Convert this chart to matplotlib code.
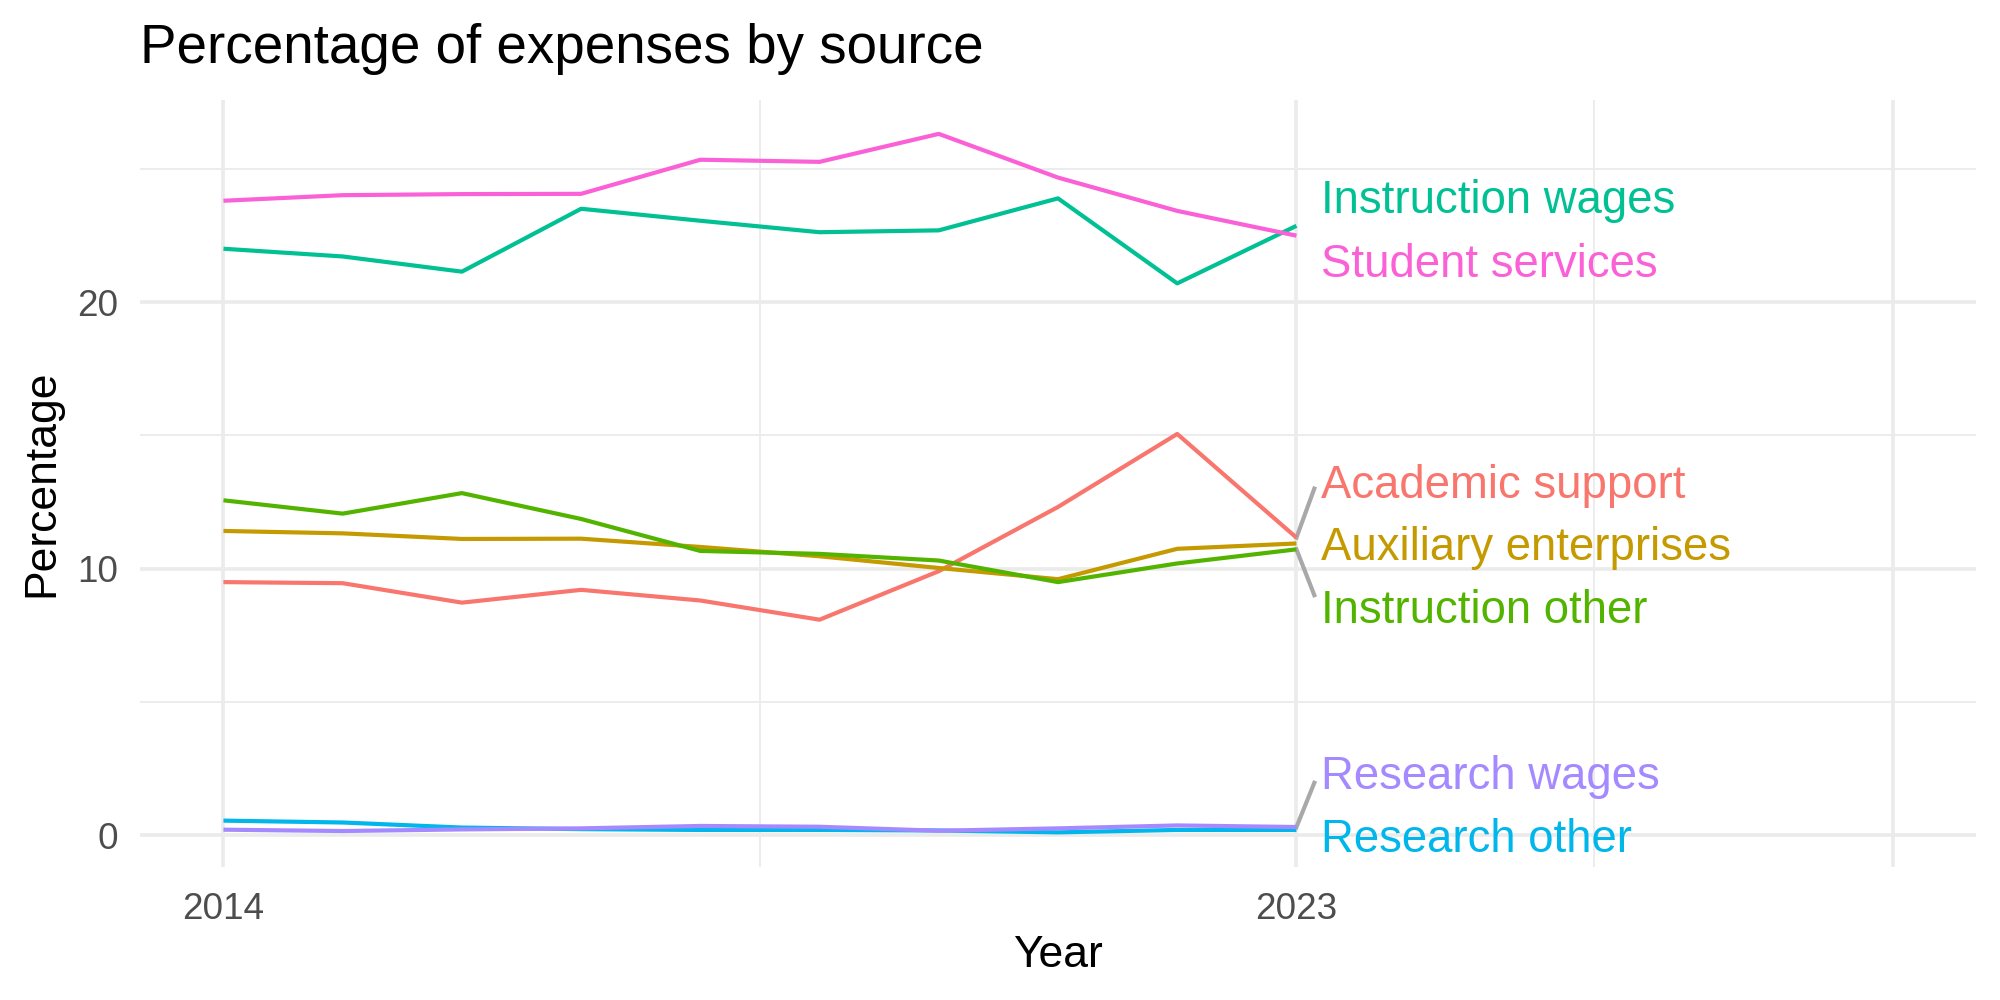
import matplotlib.pyplot as plt
import numpy as np

plt.rcParams['font.family'] = ['Liberation Sans', 'DejaVu Sans']

years = np.arange(2014, 2024)

academic_support = [9.49, 9.45, 8.72, 9.20, 8.80, 8.08, 9.90, 12.31, 15.05, 11.16]
auxiliary = [11.41, 11.32, 11.11, 11.12, 10.81, 10.46, 10.02, 9.60, 10.74, 10.94]
instruction_other = [12.56, 12.06, 12.83, 11.86, 10.66, 10.55, 10.30, 9.49, 10.19, 10.72]
instruction_wages = [22.00, 21.71, 21.14, 23.50, 23.05, 22.62, 22.69, 23.89, 20.70, 22.86]
research_other = [0.54, 0.47, 0.28, 0.22, 0.19, 0.19, 0.17, 0.10, 0.19, 0.19]
research_wages = [0.20, 0.15, 0.21, 0.25, 0.34, 0.31, 0.16, 0.25, 0.36, 0.30]
student_services = [23.80, 24.01, 24.05, 24.06, 25.34, 25.26, 26.31, 24.67, 23.42, 22.49]

series = [
    ('Academic support', academic_support, '#F8766D'),
    ('Auxiliary enterprises', auxiliary, '#C49A00'),
    ('Instruction other', instruction_other, '#53B400'),
    ('Instruction wages', instruction_wages, '#00C094'),
    ('Research other', research_other, '#00B6EB'),
    ('Research wages', research_wages, '#A58AFF'),
    ('Student services', student_services, '#FB61D7'),
]

# repelled label positions (y in data units) and leader segment ends
label_y = {
    'Instruction wages': 23.78,
    'Student services': 21.39,
    'Academic support': 13.11,
    'Auxiliary enterprises': 10.77,
    'Instruction other': 8.42,
    'Research wages': 2.16,
    'Research other': -0.19,
}
segment_end = {
    'Academic support': 13.0,
    'Instruction other': 9.0,
    'Research wages': 1.96,
}

fig = plt.figure(figsize=(10, 5), dpi=200)
ax = fig.add_axes([0.07, 0.133, 0.918, 0.7675])

for name, vals, col in series:
    ax.plot(years, vals, color=col, lw=1.5, solid_capstyle='butt', zorder=3)

for name, vals, col in series:
    if name in segment_end:
        ax.plot([years[-1], 2023.15], [vals[-1], segment_end[name]],
                color='#A8A8A8', lw=1.5, zorder=2)
    ax.text(2023.21, label_y[name], name, color=col, fontsize=16.4,
            va='center', ha='left', zorder=4)

ax.set_xlim(2013.3, 2028.7)
ax.set_ylim(-1.2, 27.6)
ax.set_xticks([2014, 2023, 2028])
ax.set_xticklabels(['2014', '2023', ''])
ax.set_xticks([2018.5, 2025.5], minor=True)
ax.set_yticks([0, 10, 20])
ax.set_yticks([5, 15, 25], minor=True)

ax.grid(which='major', color='#EBEBEB', lw=1.3, zorder=0)
ax.grid(which='minor', color='#EBEBEB', lw=0.65, zorder=0)
ax.tick_params(which='both', length=0, labelsize=13.3, labelcolor='#4D4D4D')
ax.tick_params(axis='x', pad=9)
ax.tick_params(axis='y', pad=8)
for s in ax.spines.values():
    s.set_visible(False)

ax.set_xlabel('Year', fontsize=16, labelpad=3)
ax.set_ylabel('Percentage', fontsize=16, labelpad=5)
fig.text(0.07, 0.951, 'Percentage of expenses by source', fontsize=19.7,
         ha='left', va='center')

fig.savefig('out.png', dpi=200)
